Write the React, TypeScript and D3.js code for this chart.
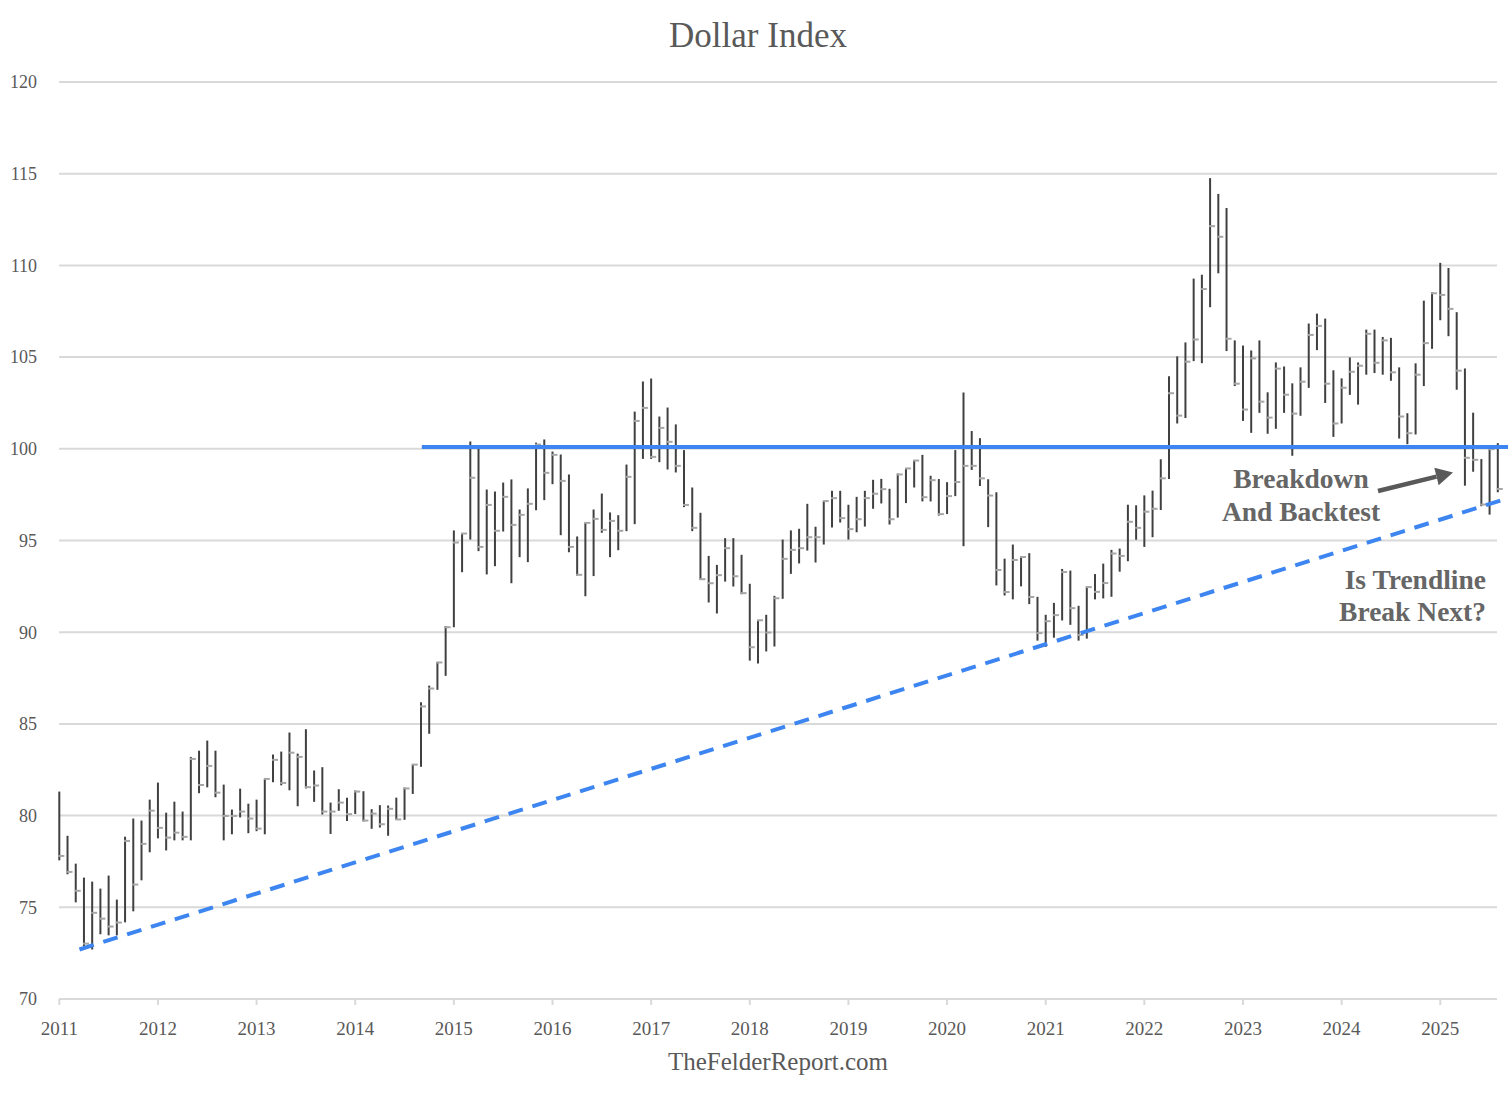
import React from "react";
import * as d3 from "d3";

// Monthly bars, Jan 2011 .. Aug 2025 (month index 0 = Jan 2011)
const highs: number[] = [
  81.31, 78.9, 77.38, 76.62, 76.4, 76.02, 76.73, 75.42, 78.85, 79.84, 79.73, 80.87,
  81.8, 80.16, 80.76, 80.22, 83.2, 83.54, 84.09, 83.54, 81.69, 80.33, 81.47, 80.65,
  80.87, 82.0, 83.33, 83.49, 84.53, 83.38, 84.71, 82.46, 82.64, 80.71, 81.44, 80.98,
  81.37, 81.33, 80.35, 80.57, 80.55, 80.98, 81.53, 82.8, 86.18, 87.09, 88.38, 90.33,
  95.55, 95.38, 100.4, 100.0, 97.78, 97.67, 98.16, 98.33, 96.69, 97.84, 100.34, 100.51,
  99.85, 99.69, 98.6, 95.22, 95.98, 96.69, 97.56, 96.53, 96.38, 99.14, 102.03, 103.67,
  103.83, 101.76, 102.25, 101.33, 99.93, 97.89, 96.51, 94.16, 93.67, 95.13, 95.13, 94.22,
  92.64, 90.67, 90.95, 91.98, 95.05, 95.55, 95.64, 97.0, 95.75, 97.16, 97.71, 97.71,
  96.95, 97.38, 97.71, 98.31, 98.36, 97.82, 98.65, 98.93, 99.38, 99.67, 98.53, 98.35,
  98.18, 99.93, 103.07, 100.97, 100.58, 98.34, 97.63, 94.01, 94.78, 94.14, 94.31, 91.93,
  90.95, 91.6, 93.45, 93.36, 91.44, 92.5, 93.17, 93.74, 94.49, 94.56, 96.95, 96.92,
  97.46, 97.72, 99.43, 103.96, 105.04, 105.8, 109.28, 109.49, 114.76, 113.9, 113.13, 105.91,
  105.63, 105.36, 105.91, 103.08, 104.71, 104.49, 103.57, 104.44, 106.83, 107.37, 107.1, 104.28,
  103.84, 104.98, 104.71, 106.5, 106.5, 106.1, 106.05, 104.44, 101.94, 104.66, 108.08, 108.53,
  110.14, 109.86, 107.45, 104.38, 101.97, 99.44, 100.02, 100.31,
];
const lows: number[] = [
  77.56, 76.8, 75.27, 72.88, 72.7, 73.53, 73.47, 73.47, 74.18, 74.78, 76.47, 78.0,
  78.76, 78.1, 78.65, 78.65, 78.65, 81.22, 81.54, 81.0, 78.65, 78.98, 79.9, 79.04,
  79.15, 78.98, 81.82, 81.65, 81.38, 80.51, 81.48, 80.75, 80.06, 79.0, 80.26, 79.71,
  80.09, 79.68, 79.28, 79.35, 78.9, 79.77, 79.77, 81.18, 82.66, 84.46, 86.86, 87.62,
  90.27, 93.27, 95.05, 94.42, 93.15, 93.6, 95.49, 92.67, 94.09, 93.82, 96.65, 97.2,
  98.07, 95.29, 94.36, 93.09, 91.96, 93.06, 95.42, 94.09, 94.47, 95.51, 95.89, 99.45,
  99.45, 99.27, 98.87, 98.71, 96.82, 95.51, 92.85, 91.62, 91.02, 92.76, 92.49, 92.07,
  88.45, 88.29, 88.95, 89.22, 91.82, 93.18, 93.75, 94.45, 93.8, 94.78, 95.71, 95.98,
  95.05, 95.45, 95.76, 96.73, 97.02, 95.87, 96.25, 97.04, 97.89, 97.13, 97.13, 96.36,
  96.44, 97.42, 94.69, 98.85, 97.97, 95.73, 92.55, 92.0, 91.79, 92.5, 91.53, 89.54,
  89.2, 89.7, 90.64, 90.4, 89.54, 89.65, 91.79, 91.84, 91.93, 93.3, 93.87, 95.04,
  94.65, 95.18, 96.66, 98.36, 101.38, 101.68, 104.78, 104.67, 107.72, 109.57, 105.33, 103.42,
  101.52, 100.87, 101.96, 100.82, 101.09, 101.96, 99.62, 101.8, 103.32, 105.38, 102.5, 100.65,
  101.38, 102.94, 102.41, 104.04, 104.13, 104.04, 103.71, 100.56, 100.25, 100.78, 103.42, 105.45,
  107.01, 106.14, 103.22, 97.99, 98.75, 96.87, 96.41, 97.63,
];
const closes: number[] = [
  77.8, 76.93, 75.9, 73.02, 74.7, 74.38, 73.95, 74.17, 78.62, 76.24, 78.46, 80.27,
  79.33, 78.8, 79.07, 78.84, 83.09, 81.67, 82.71, 81.25, 79.98, 79.98, 80.22, 79.84,
  79.29, 82.0, 83.04, 81.78, 83.43, 83.2, 81.55, 81.64, 80.22, 80.22, 80.71, 80.08,
  81.31, 79.73, 80.11, 79.53, 80.37, 79.79, 81.48, 82.78, 85.95, 86.93, 88.35, 90.27,
  94.89, 95.38, 98.42, 94.65, 96.94, 95.53, 97.38, 95.85, 96.4, 97.0, 100.23, 98.69,
  99.67, 98.25, 94.65, 93.13, 95.96, 96.18, 95.58, 96.07, 95.53, 98.47, 101.52, 102.23,
  99.56, 101.14, 100.38, 99.07, 96.94, 95.69, 92.89, 92.67, 93.11, 94.58, 93.05, 92.13,
  89.18, 90.65, 89.98, 91.85, 94.0, 94.49, 94.58, 95.18, 95.18, 97.15, 97.31, 96.22,
  95.62, 96.16, 97.31, 97.55, 97.8, 96.16, 98.6, 98.93, 99.36, 97.36, 98.29, 96.44,
  97.42, 98.19, 99.07, 99.07, 98.39, 97.45, 93.39, 92.19, 93.94, 94.1, 91.92, 89.95,
  90.6, 90.93, 93.28, 91.31, 89.85, 92.46, 92.2, 92.68, 94.29, 94.16, 96.02, 95.69,
  96.57, 96.73, 98.39, 103.03, 101.81, 104.75, 105.96, 108.71, 112.14, 111.56, 106.0, 103.55,
  102.14, 104.93, 102.57, 101.7, 104.37, 102.95, 101.92, 103.66, 106.21, 106.7, 103.55, 101.38,
  103.33, 104.2, 104.53, 106.27, 104.69, 105.91, 104.17, 101.76, 100.85, 104.04, 105.76, 108.48,
  108.39, 107.63, 104.26, 99.51, 99.4, 96.96, 99.98, 97.81,
];

const yearLabels: string[] = [
  "2011", "2012", "2013", "2014", "2015", "2016", "2017", "2018",
  "2019", "2020", "2021", "2022", "2023", "2024", "2025",
];
const yTicks: number[] = [70, 75, 80, 85, 90, 95, 100, 105, 110, 115, 120];

// Resistance line (horizontal) and rising trendline, in data units (month index, value)
const resistance = { startMonth: 44.1, endMonth: 176.3, value: 100.1 };
const trendline = { startMonth: 2.45, startValue: 72.7, endMonth: 176.2, endValue: 97.3 };

const W = 1508;
const H = 1093;
const SERIF = "'Liberation Serif', 'DejaVu Serif', serif";
const TEXT = "#595959";

export default function App() {
  const x = d3.scaleLinear().domain([0, 175]).range([59.3, 1497.8]);
  const y = d3.scaleLinear().domain([70, 120]).range([999, 82]);
  const plotLeft = 59;
  const plotRight = 1497;

  const bars = d3.range(highs.length).map((i) => ({
    i,
    h: highs[i],
    l: lows[i],
    c: closes[i],
  }));

  const line = d3
    .line<[number, number]>()
    .x((d) => x(d[0]))
    .y((d) => y(d[1]));

  const arrowStart: [number, number] = [1378, 491];
  const arrowEnd: [number, number] = [1453, 472.5];
  const ang = Math.atan2(arrowEnd[1] - arrowStart[1], arrowEnd[0] - arrowStart[0]);
  const headLen = 17;
  const headW = 9;
  const bx = arrowEnd[0] - headLen * Math.cos(ang);
  const by = arrowEnd[1] - headLen * Math.sin(ang);
  const head = [
    [arrowEnd[0], arrowEnd[1]],
    [bx + headW * Math.sin(ang), by - headW * Math.cos(ang)],
    [bx - headW * Math.sin(ang), by + headW * Math.cos(ang)],
  ]
    .map((p) => p.join(","))
    .join(" ");

  const annoFont = 27.5;

  return (
    <svg
      width={W}
      height={H}
      style={{ position: "absolute", left: 0, top: 0, background: "#fff" }}
    >
      <rect x={0} y={0} width={W} height={H} fill="#fff" />
      {/* Title */}
      <text x={758} y={47} textAnchor="middle" fontFamily={SERIF} fontSize={35} fill={TEXT}>
        Dollar Index
      </text>

      {/* Gridlines + y labels */}
      {yTicks.map((t) => (
        <g key={t}>
          <line x1={plotLeft} x2={plotRight} y1={y(t)} y2={y(t)} stroke="#d9d9d9" strokeWidth={2} />
          <text
            x={37}
            y={y(t)}
            dy="0.35em"
            textAnchor="end"
            fontFamily={SERIF}
            fontSize={18}
            fill={TEXT}
          >
            {t}
          </text>
        </g>
      ))}

      {/* x ticks and labels */}
      {yearLabels.map((lab, k) => (
        <g key={lab}>
          <line
            x1={x(k * 12)}
            x2={x(k * 12)}
            y1={y(70)}
            y2={y(70) + 6}
            stroke="#d9d9d9"
            strokeWidth={2}
          />
          <text
            x={x(k * 12)}
            y={1035}
            textAnchor="middle"
            fontFamily={SERIF}
            fontSize={19}
            fill={TEXT}
          >
            {lab}
          </text>
        </g>
      ))}

      {/* OHLC bars (high-low + close tick) */}
      {bars.map((b) => (
        <g key={b.i}>
          <line
            x1={x(b.i)}
            x2={x(b.i)}
            y1={y(b.h)}
            y2={y(b.l)}
            stroke="#404040"
            strokeWidth={2}
          />
          <line
            x1={x(b.i) - 1}
            x2={x(b.i) + 5}
            y1={y(b.c)}
            y2={y(b.c)}
            stroke="#a6a6a6"
            strokeWidth={2}
          />
        </g>
      ))}

      {/* Resistance line */}
      <line
        x1={x(resistance.startMonth)}
        x2={x(resistance.endMonth)}
        y1={y(resistance.value)}
        y2={y(resistance.value)}
        stroke="#3d85f0"
        strokeWidth={4}
      />

      {/* Trendline */}
      <path
        d={
          line([
            [trendline.startMonth, trendline.startValue],
            [trendline.endMonth, trendline.endValue],
          ]) || ""
        }
        stroke="#3d85f0"
        strokeWidth={4}
        strokeDasharray="15 10"
        fill="none"
      />

      {/* Annotations */}
      <text
        x={1301}
        y={488}
        textAnchor="middle"
        fontFamily={SERIF}
        fontWeight="bold"
        fontSize={annoFont}
        fill="#666"
      >
        Breakdown
      </text>
      <text
        x={1301}
        y={521}
        textAnchor="middle"
        fontFamily={SERIF}
        fontWeight="bold"
        fontSize={annoFont}
        fill="#666"
      >
        And Backtest
      </text>
      <line
        x1={arrowStart[0]}
        y1={arrowStart[1]}
        x2={bx}
        y2={by}
        stroke={TEXT}
        strokeWidth={4.5}
      />
      <polygon points={head} fill={TEXT} />

      <text
        x={1486}
        y={589}
        textAnchor="end"
        fontFamily={SERIF}
        fontWeight="bold"
        fontSize={annoFont}
        fill="#666"
      >
        Is Trendline
      </text>
      <text
        x={1486}
        y={621}
        textAnchor="end"
        fontFamily={SERIF}
        fontWeight="bold"
        fontSize={annoFont}
        fill="#666"
      >
        Break Next?
      </text>

      {/* Footer */}
      <text x={778} y={1070} textAnchor="middle" fontFamily={SERIF} fontSize={25} fill={TEXT}>
        TheFelderReport.com
      </text>
    </svg>
  );
}
